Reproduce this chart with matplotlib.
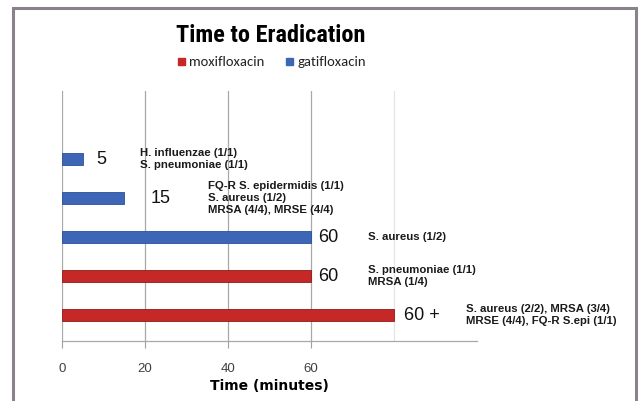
import matplotlib.pyplot as plt
from matplotlib.patches import Rectangle

# bars from top to bottom
drugs = ["gatifloxacin", "gatifloxacin", "gatifloxacin", "moxifloxacin", "moxifloxacin"]
minutes = [5, 15, 60, 60, 80]          # "60 +" is drawn out to 80
value_labels = ["5", "15", "60", "60", "60 +"]
organisms = [
    "H. influenzae (1/1)\nS. pneumoniae (1/1)",
    "FQ-R S. epidermidis (1/1)\nS. aureus (1/2)\nMRSA (4/4), MRSE (4/4)",
    "S. aureus (1/2)",
    "S. pneumoniae (1/1)\nMRSA (1/4)",
    "S. aureus (2/2), MRSA (3/4)\nMRSE (4/4), FQ-R S.epi (1/1)",
]
tick_values = [0, 20, 40, 60]

colors = {"moxifloxacin": "#c62828", "gatifloxacin": "#3d66b7"}
narrow = ["Roboto Condensed", "DejaVu Sans"]

fig = plt.figure(figsize=(6.43, 4.02), dpi=100)
fig.patches.append(Rectangle((13 / 643, -0.02), 623 / 643, 1 - 9 / 402 + 0.02,
                             transform=fig.transFigure, fill=False,
                             edgecolor="#8a828a", linewidth=2.2))

ax = fig.add_axes([62 / 643, 60 / 402, 415 / 643, 250 / 402])
ypos = list(range(len(minutes)))[::-1]

# grid lines (drawn under the bars)
for x in tick_values:
    ax.axvline(x, color="#a8a8a8", linewidth=0.9, zorder=0)
ax.axvline(80, color="#e4e4e4", linewidth=0.9, zorder=0)

ax.barh(ypos, minutes, height=0.3,
        color=[colors[d] for d in drugs],
        edgecolor=["#8e1a1a" if d == "moxifloxacin" else "#2c4f96" for d in drugs],
        linewidth=0.6, zorder=2)

# value labels and organism notes; offsets in points from bar end
value_dx = [10, 19, 5, 5, 7]
note_x = [18.8, 35.2, 73.7, 73.7, 97.3]
for y, v, lab, note, dx, nx in zip(ypos, minutes, value_labels, organisms, value_dx, note_x):
    ax.annotate(lab, (v, y), xytext=(dx, 0), textcoords="offset points",
                ha="left", va="center", fontsize=13, family="Liberation Sans",
                color="#111111")
    ax.text(nx, y + 0.02, note, ha="left", va="center", fontsize=8.2,
            family="Liberation Sans", fontweight="bold", color="#1a1a1a",
            linespacing=1.25, clip_on=False)

ax.set_xlim(0, 100)
ax.set_ylim(-0.67, 5.74)
ax.set_yticks([])
ax.set_xticks(tick_values)
ax.set_xticklabels([str(t) for t in tick_values], family="Liberation Sans",
                   fontsize=9.5, color="#404040")
ax.tick_params(axis="x", length=5, width=0.8, color="#a0a0a0", pad=10)
for side in ["top", "right", "left"]:
    ax.spines[side].set_visible(False)
ax.spines["bottom"].set_color("#a8a8a8")
ax.spines["bottom"].set_linewidth(0.9)
ax.set_xlabel("Time (minutes)", fontsize=10, fontweight="bold",
              family="DejaVu Sans", labelpad=3)

fig.text(271 / 643, 1 - 36 / 402, "Time to Eradication", ha="center", va="center",
         fontsize=17.5, fontweight="bold", family=narrow)

# legend
legend_y = 1 - 62 / 402
for x0, name in [(178, "moxifloxacin"), (286, "gatifloxacin")]:
    fig.patches.append(Rectangle((x0 / 643, legend_y - 3.5 / 402), 7 / 643, 7 / 402,
                                 transform=fig.transFigure, color=colors[name]))
    fig.text((x0 + 11) / 643, legend_y, name, ha="left", va="center",
             fontsize=10.5, family=["Carlito", "DejaVu Sans"], color="#222222")

fig.savefig("out.png", dpi=100)
